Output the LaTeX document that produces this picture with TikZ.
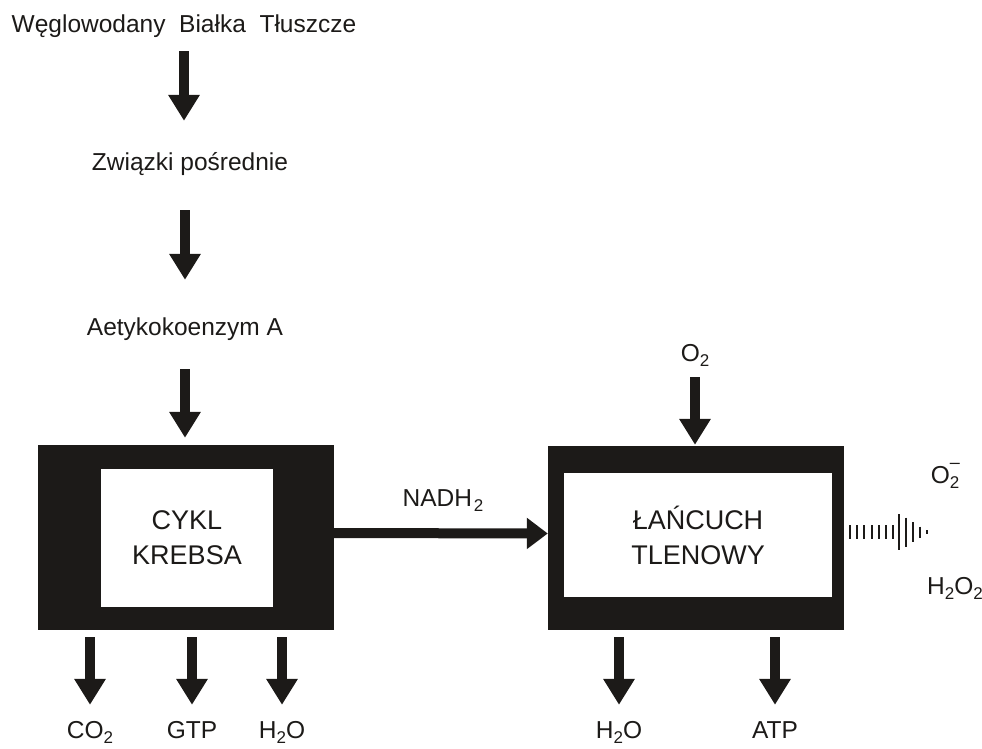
\documentclass[tikz,border=0pt]{standalone}
\usepackage{fontspec}
\setmainfont{Liberation Sans}
\usetikzlibrary{arrows.meta}
\definecolor{ink}{HTML}{1C1A18}
\newcommand{\low}[1]{\raisebox{-0.24em}{\fontsize{17}{17}\selectfont #1}}

\begin{document}
\begin{tikzpicture}[x=1pt, y=-1pt, ink, txt/.style={inner sep=0pt, text height=18pt, text depth=0pt, font=\fontsize{24.5}{29}\selectfont}, frame/.style={fill=ink, minimum width=296pt, inner sep=0pt}, core/.style={fill=white, inner sep=0pt, align=center, font=\fontsize{27}{35}\selectfont}, flow/.style={line width=10pt, -{Triangle[width=30pt, length=26pt]}}, yield/.style={flow, shorten <=7pt, shorten >=15pt}, wave/.style={line width=2pt}]
	\useasboundingbox (0,0) rectangle (982,749);
	\node[txt] (food) at (184,24) {Węglowodany~~Białka~~Tłuszcze};
	\node[txt] (inter) at (190,161) {Związki pośrednie};
	\node[txt] (acetyl) at (185,326) {Aetykokoenzym A};
	\node[frame, minimum height=185pt] (krebsbox) at (186,537.5) {};
	\node[core, minimum width=172pt, minimum height=138pt] (krebs) at (187,538) {CYKL\\KREBSA};
	\node[frame, minimum height=184pt] (chainbox) at (696,538) {};
	\node[core, minimum width=268pt, minimum height=124pt] (chain) at (698,535) {ŁAŃCUCH\\TLENOWY};
	\node[txt] (o2) at (695,352) {O\low{2}};
	\node[txt] (nadh) at (443,497) {NADH\kern2pt\low{2}};
	\node[txt] (co2) at (90,729) {CO\low{2}};
	\node[txt] (gtp) at (192,729) {GTP};
	\node[txt] (h2oa) at (282,729) {H\low{2}O};
	\node[txt] (h2ob) at (619,729) {H\low{2}O};
	\node[txt] (atp) at (775,729) {ATP};
	\node[txt] (superox) at (945,474) {O\rlap{\raisebox{15pt}{\fontsize{18}{18}\selectfont –}}\low{2}};
	\node[txt] (peroxide) at (955,585) {H\low{2}O\low{2}};
	\draw[flow, shorten <=18pt, shorten >=31pt] (food) -- (food |- inter.north);
	\draw[flow, shorten <=40pt, shorten >=37pt] (acetyl |- inter.south) -- (acetyl);
	\draw[flow, shorten <=34pt, shorten >=7pt] (acetyl) -- (acetyl |- krebsbox.north);
	\draw[flow, shorten <=16pt, shorten >=1pt] (o2) -- (o2 |- chainbox.north);
	\draw[flow, -{Triangle[width=30pt, length=21pt]}] ([yshift=4.5pt]krebsbox.east) -- ([yshift=4.5pt]chainbox.west);
	\foreach \p in {co2,gtp,h2oa}
		\draw[yield] (krebsbox.south -| \p) -- (\p);
	\foreach \p in {h2ob,atp}
		\draw[yield] (chainbox.south -| \p) -- (\p);
	\foreach \i in {0,...,6}
		\draw[wave] (850+7.2*\i,525) -- (850+7.2*\i,539);
	\foreach \x/\h in {899/18,906/14.5,913/10,920/5.5,927/2}
		\draw[wave] (\x,532-\h) -- (\x,532+\h);
\end{tikzpicture}
\end{document}
